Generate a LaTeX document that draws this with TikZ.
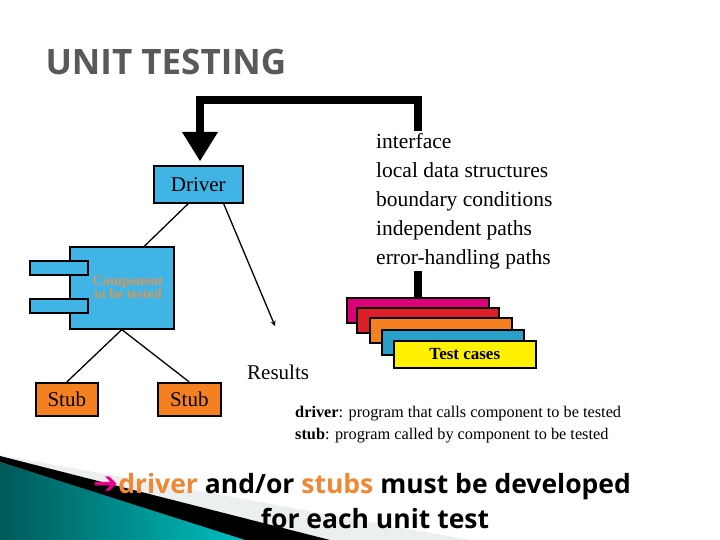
\documentclass[tikz,border=0pt]{standalone}
\usepackage{fontspec}
\setmainfont{Liberation Serif}
\newfontfamily\tsans{Open Sans}
\newfontfamily\dvs{DejaVu Sans}
\definecolor{cblue}{RGB}{64,180,228}
\definecolor{corange}{RGB}{245,128,32}
\definecolor{tcol}{RGB}{240,135,50}
\definecolor{pink}{RGB}{220,0,120}
\definecolor{tred}{RGB}{220,30,40}
\definecolor{tteal}{RGB}{40,160,200}
\definecolor{ctxt}{RGB}{215,150,90}
\begin{document}
\begin{tikzpicture}[x=1pt,y=-1pt,
  box/.style={draw=black,line width=1.6pt,inner sep=0pt},
  conn/.style={draw=black,line width=1.3pt}]
\useasboundingbox (0,0) rectangle (720,540);
% bottom decoration
\fill[cyan!10!gray!15] (0,455) -- (470,540) -- (0,540) -- cycle;
\fill[black] (0,456) -- (330,540) -- (240,540) -- (0,462) -- cycle;
\shade[left color=teal!70!black,right color=cyan!50!teal] (0,462) -- (245,540) -- (0,540) -- cycle;
% title
\node[anchor=west,text=black!65,font=\tsans\bfseries\fontsize{35}{40}\selectfont] (title) at (42,62) {UNIT TESTING};
% thick arrow
\coordinate (tc) at (418,297);
\coordinate (c1) at (418,100);
\coordinate (c2) at (200,100);
\draw[line width=8pt] (tc) -- (c1) -- (c2) -- (200,135);
\fill (182,132) -- (218,132) -- (200,161) -- cycle;
% list
\node[fill=white,anchor=north west,inner sep=2pt,align=left,font=\fontsize{21.5}{29}\selectfont] (list) at (374,131)
 {interface\\local data structures\\boundary conditions\\independent paths\\error-handling paths};
% test cases
\foreach \x/\y/\c in {347/298/pink,357/308/tred,370/318/corange,382/330/tteal}{
  \draw[box,fill=\c] (\x,\y) rectangle ++(142,25);}
\node[box,fill=yellow,minimum width=142pt,minimum height=27pt,anchor=north west,font=\bfseries\fontsize{17}{20}\selectfont] (tcases) at (393,340) {Test cases};
% driver
\node[box,fill=cblue,minimum width=89pt,minimum height=37pt,anchor=north west,font=\fontsize{21}{24}\selectfont] (driver) at (153,165) {Driver};
% component
\node[box,fill=cblue,minimum width=104pt,minimum height=82pt,anchor=north west] (comp) at (69,246) {};
\draw[box,fill=cblue] (30,261) rectangle (88,275);
\draw[box,fill=cblue] (30,299) rectangle (88,313);
\node[text=ctxt,font=\bfseries\fontsize{14}{13}\selectfont,align=center] (ctext) at (128,287) {Component\\to be tested};
% stubs
\node[box,fill=corange,minimum width=62pt,minimum height=33pt,anchor=north west,font=\fontsize{21}{24}\selectfont] (stub1) at (35,382) {Stub};
\node[box,fill=corange,minimum width=63pt,minimum height=33pt,anchor=north west,font=\fontsize{21}{24}\selectfont] (stub2) at (157,382) {Stub};
\draw[conn] (comp.south) -- (stub1.north);
\draw[conn] (comp.south) -- (stub2.north);
\draw[conn] ([xshift=-10pt]driver.south) -- ([xshift=-30pt]comp.north east);
\node[anchor=west,inner sep=0pt,font=\fontsize{21}{24}\selectfont] (results) at (247,372) {Results};
\coordinate (rtip) at (275,326);
\draw[conn,-stealth] ([xshift=-20pt]driver.south east) -- (rtip);
% definitions
\node[anchor=west,inner sep=0pt,font=\fontsize{16.3}{18}\selectfont] (d1) at (295,414) {\textbf{driver}: program that calls component to be tested};
\node[anchor=west,inner sep=0pt,font=\fontsize{16.3}{18}\selectfont] (d2) at (295,436) {\textbf{stub}: program called by component to be tested};
% bottom text
\node[anchor=west,inner sep=0pt,font=\tsans\bfseries\fontsize{26.5}{30}\selectfont] (b1) at (93,487)
 {{\dvs\fontsize{30}{30}\selectfont\color{magenta}\char"2794}\color{tcol}driver \color{black}and/or \color{tcol}stubs \color{black}must be developed};
\node[inner sep=0pt,font=\tsans\bfseries\fontsize{26.5}{30}\selectfont] (b2) at (375,518) {for each unit test};
\end{tikzpicture}
\end{document}
